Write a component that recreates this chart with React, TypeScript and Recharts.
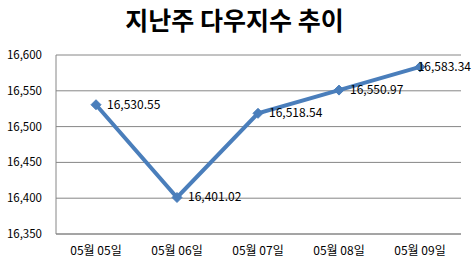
import React from "react";
import { LineChart, Line, XAxis, YAxis, CartesianGrid, LabelList } from "recharts";

const categories = ["05월 05일", "05월 06일", "05월 07일", "05월 08일", "05월 09일"];
const values = [16530.55, 16401.02, 16518.54, 16550.97, 16583.34];
const yTicks = [16350, 16400, 16450, 16500, 16550, 16600];
const title = "지난주 다우지수 추이";

const data = categories.map((c, i) => ({ name: c, value: values[i] }));

const FONT = "'Noto Sans CJK KR', 'Noto Sans', sans-serif";
const COLOR = "#4A7EBB";

const fmt = (v: number) => v.toLocaleString("en-US", { minimumFractionDigits: 0, maximumFractionDigits: 2 });
const fmt2 = (v: number) => v.toLocaleString("en-US", { minimumFractionDigits: 2, maximumFractionDigits: 2 });

const Diamond = (props: any) => {
  const { cx, cy } = props;
  if (cx == null || cy == null) return null;
  const r = 5;
  return (
    <polygon
      points={`${cx},${cy - r} ${cx + r},${cy} ${cx},${cy + r} ${cx - r},${cy}`}
      fill={COLOR}
      stroke={COLOR}
    />
  );
};

const ValueLabel = (props: any) => {
  const { x, y, value } = props;
  const overflow = x + 11 + 53 > 472;
  return (
    <text
      x={overflow ? 471 : x + 11}
      y={y + 4}
      fontSize={12}
      fontFamily={FONT}
      fill="#000"
      textAnchor={overflow ? "end" : "start"}
    >
      {fmt2(value)}
    </text>
  );
};

export default function App() {
  return (
    <div style={{ position: "absolute", left: 0, top: 0, width: 475, height: 268, background: "#fff" }}>
      <div
        style={{
          position: "absolute",
          left: 0,
          top: 1,
          width: 469,
          textAlign: "center",
          fontFamily: FONT,
          fontWeight: 700,
          fontSize: 25,
          color: "#000",
        }}
      >
        {title}
      </div>
      <LineChart width={475} height={268} data={data} margin={{ top: 55, right: 14, bottom: 0, left: 0 }}>
        <CartesianGrid vertical={false} stroke="#868686" strokeWidth={1} />
        <XAxis
          dataKey="name"
          height={34}
          padding={{ left: 40, right: 41 }}
          tickLine={false}
          tickSize={0}
          tickMargin={12}
          axisLine={{ stroke: "#868686" }}
          tick={{ fontSize: 12, fontFamily: FONT, fill: "#000" }}
          interval={0}
        />
        <YAxis
          width={56}
          domain={[16350, 16600]}
          ticks={yTicks}
          tickFormatter={fmt}
          tickLine={false}
          tickSize={0}
          tickMargin={14}
          axisLine={{ stroke: "#868686" }}
          tick={{ fontSize: 11.5, fontFamily: FONT, fill: "#000" }}
          interval={0}
        />
        <Line
          type="linear"
          dataKey="value"
          stroke={COLOR}
          strokeWidth={4}
          dot={<Diamond />}
          activeDot={false}
          isAnimationActive={false}
        >
          <LabelList dataKey="value" content={<ValueLabel />} />
        </Line>
      </LineChart>
    </div>
  );
}
